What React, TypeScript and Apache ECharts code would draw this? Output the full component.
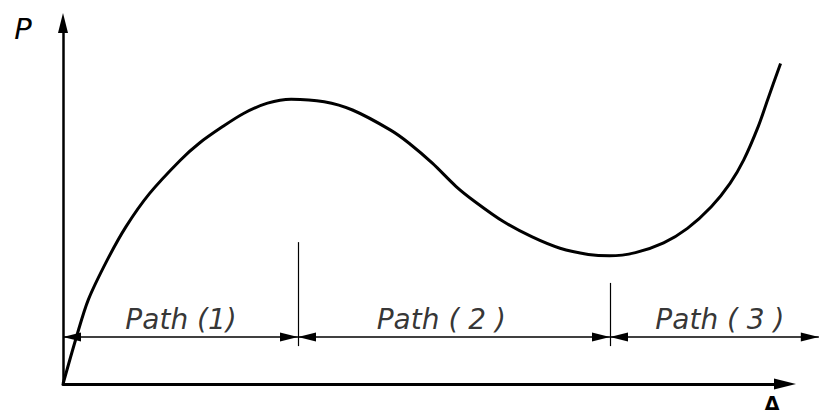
import React, { useEffect, useRef } from "react";
import * as echarts from "echarts";

// Load–displacement curve P(Δ): rising branch, limit point, unloading, minimum, re-stiffening
const curveX = [
  0, 1.87, 3.5, 6.12, 8.73, 12.0, 16.25, 18.87, 22.12, 25.07, 28.33, 31.6,
  36.18, 40.1, 45.32, 47.94, 51.2, 54.46, 57.08, 61.0, 64.92, 68.85, 72.77, 75.7,
  79.3, 83.2, 86.5, 89.8, 92.4, 94.3, 96.3, 97.6, 99.4,
];
const curveY = [
  0, 13.1, 23.3, 34.3, 43.6, 52.8, 62.0, 66.7, 71.3, 75.0, 77.8, 78.9,
  78.2, 75.9, 70.4, 66.7, 61.1, 54.7, 50.5, 45.0, 40.8, 37.6, 35.9, 35.5,
  36.4, 39.1, 43.1, 49.1, 55.6, 62.1, 71.3, 78.7, 88.8,
];

// Boundaries between the paths (limit points) and the dimension line level
const pathBounds = [0, 32.55, 75.77, 104.7];
const boundaryTop = [39.3, 28.0];
const boundaryBottom = 10.5;
const dimensionY = 13.0;

// Path labels
const pathNames = ["Path (1)", "Path ( 2 )", "Path ( 3 )"];
const pathLabelX = [16.35, 52.4, 91.0];
const pathLabelY = 18.0;

const AXIS_MAX_X = 100;
const DATA_MAX_X = 105;

const TRIANGLE = "path://M5,0 L10,20 L0,20 Z";

export default function App() {
  const ref = useRef<HTMLDivElement>(null);

  useEffect(() => {
    if (!ref.current) return;
    const chart = echarts.init(ref.current, undefined, { renderer: "svg" });

    const arrowEnd = {
      symbol: TRIANGLE,
      symbolSize: [9, 18],
      symbolOffset: [0, "50%"],
    };

    const dimensionLines = pathBounds.slice(0, -1).map((a, i) => [
      { coord: [a, dimensionY], ...arrowEnd },
      { coord: [pathBounds[i + 1], dimensionY], ...arrowEnd },
    ]);

    const boundaryLines = boundaryTop.map((top, i) => [
      {
        coord: [pathBounds[i + 1], boundaryBottom],
        symbol: "none",
        lineStyle: { color: "#000", width: 1.2, type: "solid" },
      },
      { coord: [pathBounds[i + 1], top], symbol: "none" },
    ]);

    const hiddenAxis = {
      axisLine: { show: false },
      axisTick: { show: false },
      axisLabel: { show: false },
      splitLine: { show: false },
    };

    const option = {
      animation: false,
      backgroundColor: "#fff",
      grid: [
        { left: 63, right: 0, top: 23, bottom: 35 },
        { left: 63, right: 36, top: 23, bottom: 35 },
      ],
      xAxis: [
        { type: "value", gridIndex: 0, min: 0, max: DATA_MAX_X, ...hiddenAxis },
        {
          type: "value",
          gridIndex: 1,
          min: 0,
          max: AXIS_MAX_X,
          axisLine: {
            show: true,
            onZero: false,
            symbol: ["none", TRIANGLE],
            symbolSize: [11, 22],
            lineStyle: { color: "#000", width: 3 },
          },
          axisTick: { show: false },
          axisLabel: { show: false },
          splitLine: { show: false },
        },
      ],
      yAxis: [
        { type: "value", gridIndex: 0, min: 0, max: 100, ...hiddenAxis },
        {
          type: "value",
          gridIndex: 1,
          min: 0,
          max: 100,
          axisLine: {
            show: true,
            onZero: false,
            symbol: ["none", TRIANGLE],
            symbolSize: [10, 20],
            lineStyle: { color: "#000", width: 2.5 },
          },
          axisTick: { show: false },
          axisLabel: { show: false },
          splitLine: { show: false },
        },
      ],
      series: [
        {
          type: "line",
          xAxisIndex: 0,
          yAxisIndex: 0,
          data: curveX.map((x, i) => [x, curveY[i]]),
          smooth: 0.3,
          symbol: "none",
          lineStyle: { color: "#000", width: 3 },
          clip: false,
          z: 3,
          markLine: {
            silent: true,
            animation: false,
            symbol: "none",
            label: { show: false },
            lineStyle: { color: "#000", width: 1.5, type: "solid" },
            emphasis: { disabled: true },
            data: [...dimensionLines, ...boundaryLines],
          },
        },
        {
          type: "scatter",
          xAxisIndex: 0,
          yAxisIndex: 0,
          symbolSize: 0,
          silent: true,
          data: pathNames.map((name, i) => ({ name, value: [pathLabelX[i], pathLabelY] })),
          label: {
            show: true,
            position: "inside",
            formatter: (p: any) => p.name,
            color: "#000",
            fontFamily: "DejaVu Sans",
            fontStyle: "italic",
            fontSize: 28,
          },
        },
      ],
      graphic: [
        {
          type: "text",
          x: 23,
          y: 29,
          style: {
            text: "P",
            fill: "#000",
            font: "italic 29px 'DejaVu Sans'",
            align: "center",
            verticalAlign: "middle",
          },
        },
        {
          type: "text",
          x: 772,
          y: 403,
          style: {
            text: "Δ",
            fill: "#000",
            font: "bold 19px 'DejaVu Sans'",
            align: "center",
            verticalAlign: "middle",
          },
        },
      ],
    };

    chart.setOption(option as any);
    return () => chart.dispose();
  }, []);

  return <div ref={ref} style={{ width: 821, height: 419, position: "absolute", left: 0, top: 0 }} />;
}
